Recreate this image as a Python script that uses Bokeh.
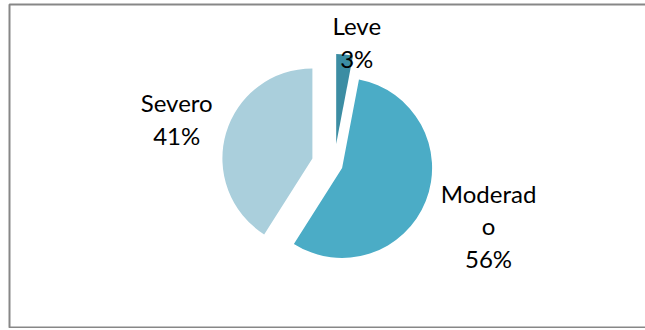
import math

from bokeh.core.properties import value
from bokeh.embed import file_html
from bokeh.models import ColumnDataSource, Range1d
from bokeh.plotting import figure
from bokeh.resources import INLINE

# Severity distribution
categories = ["Leve", "Moderado", "Severo"]
percentages = [3, 56, 41]
label_lines = [["Leve"], ["Moderad", "o"], ["Severo"]]
colors = ["#3C8DA3", "#4BACC6", "#AACFDC"]

# Layout / styling
W, H = 645, 328
top_y = 330                         # y of the page top in plot units
cx, cy = 333.7, top_y - 164.3       # pie centre (y up)
radius = 90
explode = [21, 8.5, 22.7]           # per-slice pull-out distance
label_dist = [125, 166, 164]        # label distance from the centre
label_nudge = [5.0, 0.0, 0.0]       # extra clockwise rotation of label anchor (deg)
line_h = 32.6
font = "Lato"
font_size = "24px"

p = figure(width=W, height=H, output_backend="svg", toolbar_location=None,
           x_range=Range1d(0, W), y_range=Range1d(top_y - H, top_y),
           min_border=0, background_fill_color="white", border_fill_color="white")
p.axis.visible = False
p.grid.visible = False
p.outline_line_color = None

# chart frame: left, top and bottom sides (the right side is past the page edge)
fl, ft, fb = 9, top_y - 4, 3.0
p.multi_line(xs=[[W + 40, fl, fl, W + 40]], ys=[[ft, ft, fb, fb]],
             line_color="#878787", line_width=2)

total = float(sum(percentages))
xs, ys, starts, ends = [], [], [], []
tx, ty, tt = [], [], []
acc = 0.0
for i, v in enumerate(percentages):
    a0 = acc / total * 360.0
    a1 = (acc + v) / total * 360.0
    acc += v
    mid = (a0 + a1) / 2.0
    phi = math.radians(90.0 - mid)
    xs.append(cx + explode[i] * math.cos(phi))
    ys.append(cy + explode[i] * math.sin(phi))
    starts.append(math.radians(90.0 - a0))
    ends.append(math.radians(90.0 - a1))

    # label block: name lines then percentage, centred on the anchor
    la = math.radians(90.0 - mid - label_nudge[i])
    ax = cx + label_dist[i] * math.cos(la)
    ay = cy + label_dist[i] * math.sin(la)
    lines = label_lines[i] + [f"{v}%"]
    n = len(lines)
    for k, line in enumerate(lines):
        tx.append(ax)
        ty.append(ay - (k - (n - 1) / 2.0) * line_h)
        tt.append(line)

src = ColumnDataSource(dict(x=xs, y=ys, start=starts, end=ends,
                            color=colors, cat=categories))
p.wedge(x="x", y="y", radius=radius, start_angle="start", end_angle="end",
        direction="clock", fill_color="color", line_color=None, source=src)

p.text(x=tx, y=ty, text=tt, text_font=value(font), text_font_size=font_size,
       text_align="center", text_baseline="middle", text_color="#000000")

open("out.html", "w").write(file_html(p, INLINE))
